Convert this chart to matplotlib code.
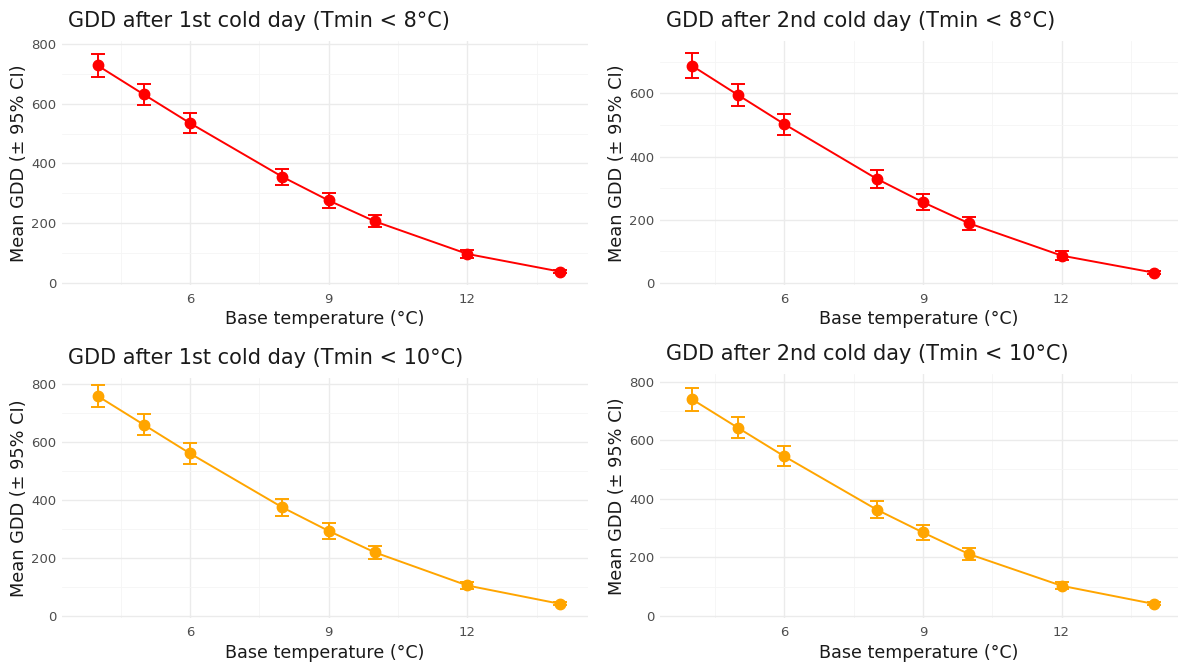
import matplotlib
matplotlib.use("Agg")
import matplotlib.pyplot as plt
import numpy as np

base_temp = [4, 5, 6, 8, 9, 10, 12, 14]

titles = [
    "GDD after 1st cold day (Tmin < 8°C)",
    "GDD after 2nd cold day (Tmin < 8°C)",
    "GDD after 1st cold day (Tmin < 10°C)",
    "GDD after 2nd cold day (Tmin < 10°C)",
]

mean_1st_8 = [728, 631, 535, 355, 276, 206, 97, 38]
ci_1st_8 = [38, 35, 33, 28, 24, 20, 12, 5]
mean_2nd_8 = [688, 595, 503, 330, 256, 189, 87, 33]
ci_2nd_8 = [39, 36, 33, 29, 25, 20, 13, 5]
mean_1st_10 = [758, 659, 560, 374, 293, 219, 105, 42]
ci_1st_10 = [39, 37, 35, 29, 27, 22, 12, 5]
mean_2nd_10 = [740, 642, 545, 363, 285, 211, 103, 41]
ci_2nd_10 = [39, 36, 34, 28, 25, 21, 12, 5]

means = [mean_1st_8, mean_2nd_8, mean_1st_10, mean_2nd_10]
cis = [ci_1st_8, ci_2nd_8, ci_1st_10, ci_2nd_10]
colors = ["#FF0000", "#FF0000", "#FFA500", "#FFA500"]

W, H = 1178, 662
fig = plt.figure(figsize=(W / 100, H / 100), dpi=100)

# panel pixel boxes: left, right, top, bottom ; and y limits
panels = [
    (62, 588, 41, 285, (-7, 810)),
    (660, 1178, 41, 285, (-6, 766)),
    (62, 588, 378, 618, (-7, 820)),
    (660, 1178, 374, 618, (-7, 826)),
]
xlims = [(3.23, 14.61), (3.31, 14.52), (3.23, 14.61), (3.31, 14.52)]

grid_major = "#EBEBEB"
grid_minor = "#F5F5F5"
text_grey = "#4D4D4D"

for i in range(4):
    l, r, t, b, ylim = panels[i]
    ax = fig.add_axes([l / W, 1 - b / H, (r - l) / W, (b - t) / H])
    ax.set_xlim(*xlims[i])
    ax.set_ylim(*ylim)
    for s in ax.spines.values():
        s.set_visible(False)
    ax.set_xticks([6, 9, 12])
    ax.set_xticks([4.5, 7.5, 10.5, 13.5], minor=True)
    yt = [v for v in [0, 200, 400, 600, 800] if v <= ylim[1]]
    ax.set_yticks(yt)
    ax.set_yticks([v for v in [100, 300, 500, 700] if v <= ylim[1]], minor=True)
    ax.grid(True, which="major", color=grid_major, linewidth=1.0)
    ax.grid(True, which="minor", color=grid_minor, linewidth=0.6)
    ax.set_axisbelow(True)
    ax.tick_params(which="both", length=0, labelsize=9.5, labelcolor=text_grey)
    ax.tick_params(axis="x", pad=6)
    ax.tick_params(axis="y", pad=4)
    ax.errorbar(base_temp, means[i], yerr=cis[i], color=colors[i], fmt="o-",
                markersize=7.5, linewidth=1.4, elinewidth=1.4, capsize=5,
                capthick=1.4)
    ax.set_title(titles[i], loc="left", fontsize=15, pad=10, color="#1A1A1A",
                 x=0.012)
    ax.set_xlabel("Base temperature (°C)", fontsize=12.6, color="#1A1A1A",
                  labelpad=3)
    ax.set_ylabel("Mean GDD (± 95% CI)", fontsize=12.8, color="#1A1A1A",
                  labelpad=2)

fig.savefig("out.png", dpi=100, facecolor="white")
